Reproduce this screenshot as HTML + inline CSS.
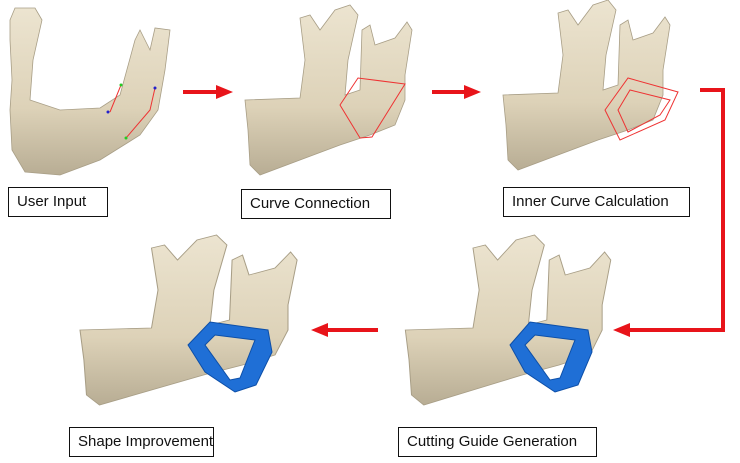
<!DOCTYPE html>
<html><head><meta charset="utf-8"><style>
html,body{margin:0;padding:0;background:#fff;}
.lbl{position:absolute;border:1.5px solid #111;background:#fff;font-family:"Liberation Sans",sans-serif;font-size:15px;color:#111;box-sizing:border-box;padding-left:8px;line-height:27px;white-space:nowrap;}
</style></head><body>
<div style="position:relative;width:740px;height:463px;overflow:hidden;">
<svg width="740" height="463" style="position:absolute;left:0;top:0">
<defs>
<linearGradient id="bone" x1="0" y1="0" x2="0" y2="1">
<stop offset="0" stop-color="#ece4d0"/><stop offset="0.6" stop-color="#ddd2b8"/><stop offset="1" stop-color="#b8ad94"/>
</linearGradient>
<path id="jaw" d="M245,100 L300,98 L305,60 L300,18 L310,15 L320,30 L335,10 L350,5 L358,15 L348,60 L345,95 L360,90 L362,30 L370,25 L375,45 L395,38 L407,22 L412,30 L405,75 L405,100 L395,125 L370,135 L340,145 L300,160 L260,175 L250,165 L248,130 Z" fill="url(#bone)" stroke="#a89e86" stroke-width="0.8"/>
<marker id="ah" markerUnits="userSpaceOnUse" markerWidth="18" markerHeight="16" refX="4" refY="8" orient="auto"><path d="M0,1 L17,8 L0,15 Z" fill="#e8141a"/></marker>
</defs>
<path d="M10,20 L15,8 L35,8 L42,20 L33,60 L30,100 L60,110 L100,108 L120,95 L135,40 L140,30 L145,40 L150,50 L155,28 L170,30 L165,70 L158,110 L140,135 L100,160 L60,175 L25,172 L12,150 L10,110 L12,80 L10,40 Z" fill="url(#bone)" stroke="#a89e86" stroke-width="0.8"/>
<path d="M121,85 L110,112 M155,88 L150,110 L126,138" stroke="#e33" fill="none" stroke-width="1"/>
<circle cx="121" cy="85" r="1.5" fill="#2c2"/><circle cx="108" cy="112" r="1.5" fill="#22c"/><circle cx="155" cy="88" r="1.5" fill="#22c"/><circle cx="126" cy="138" r="1.5" fill="#2c2"/>
<use href="#jaw"/>
<path d="M340,105 L358,78 L405,84 L372,137 L360,138 Z" fill="none" stroke="#e33" stroke-width="1"/>
<use href="#jaw" transform="translate(258,-5)"/>
<path d="M605,110 L628,78 L678,92 L665,120 L620,140 Z M618,110 L630,90 L670,100 L660,115 L628,132 Z" fill="none" stroke="#e33" stroke-width="1"/>
<use href="#jaw" transform="translate(-238.5,230) scale(1.3,1)"/>
<path d="M188,345 L210,322 L268,330 L272,352 L256,385 L235,392 L205,372 Z M205,345 L215,335 L255,340 L240,378 L230,380 Z" fill="#1f6fd6" fill-rule="evenodd" stroke="#0d4fa8"/>
<use href="#jaw" transform="translate(104,230) scale(1.23,1)"/>
<path d="M510,345 L530,322 L588,330 L592,352 L578,385 L555,392 L525,372 Z M525,345 L535,335 L575,340 L560,378 L550,380 Z" fill="#1f6fd6" fill-rule="evenodd" stroke="#0d4fa8"/>
<g stroke="#e8141a" stroke-width="4" fill="none">
<line x1="183" y1="92" x2="220" y2="92" marker-end="url(#ah)"/>
<line x1="432" y1="92" x2="468" y2="92" marker-end="url(#ah)"/>
<polyline points="700,90 723,90 723,330 626,330" marker-end="url(#ah)"/>
<line x1="378" y1="330" x2="324" y2="330" marker-end="url(#ah)"/>
</g>
</svg>
<div class="lbl" style="left:8px;top:187px;width:100px;height:30px">User Input</div>
<div class="lbl" style="left:241px;top:189px;width:150px;height:30px">Curve Connection</div>
<div class="lbl" style="left:503px;top:187px;width:187px;height:30px">Inner Curve Calculation</div>
<div class="lbl" style="left:69px;top:427px;width:145px;height:30px">Shape Improvement</div>
<div class="lbl" style="left:398px;top:427px;width:199px;height:30px">Cutting Guide Generation</div>
</div>
</body></html>
